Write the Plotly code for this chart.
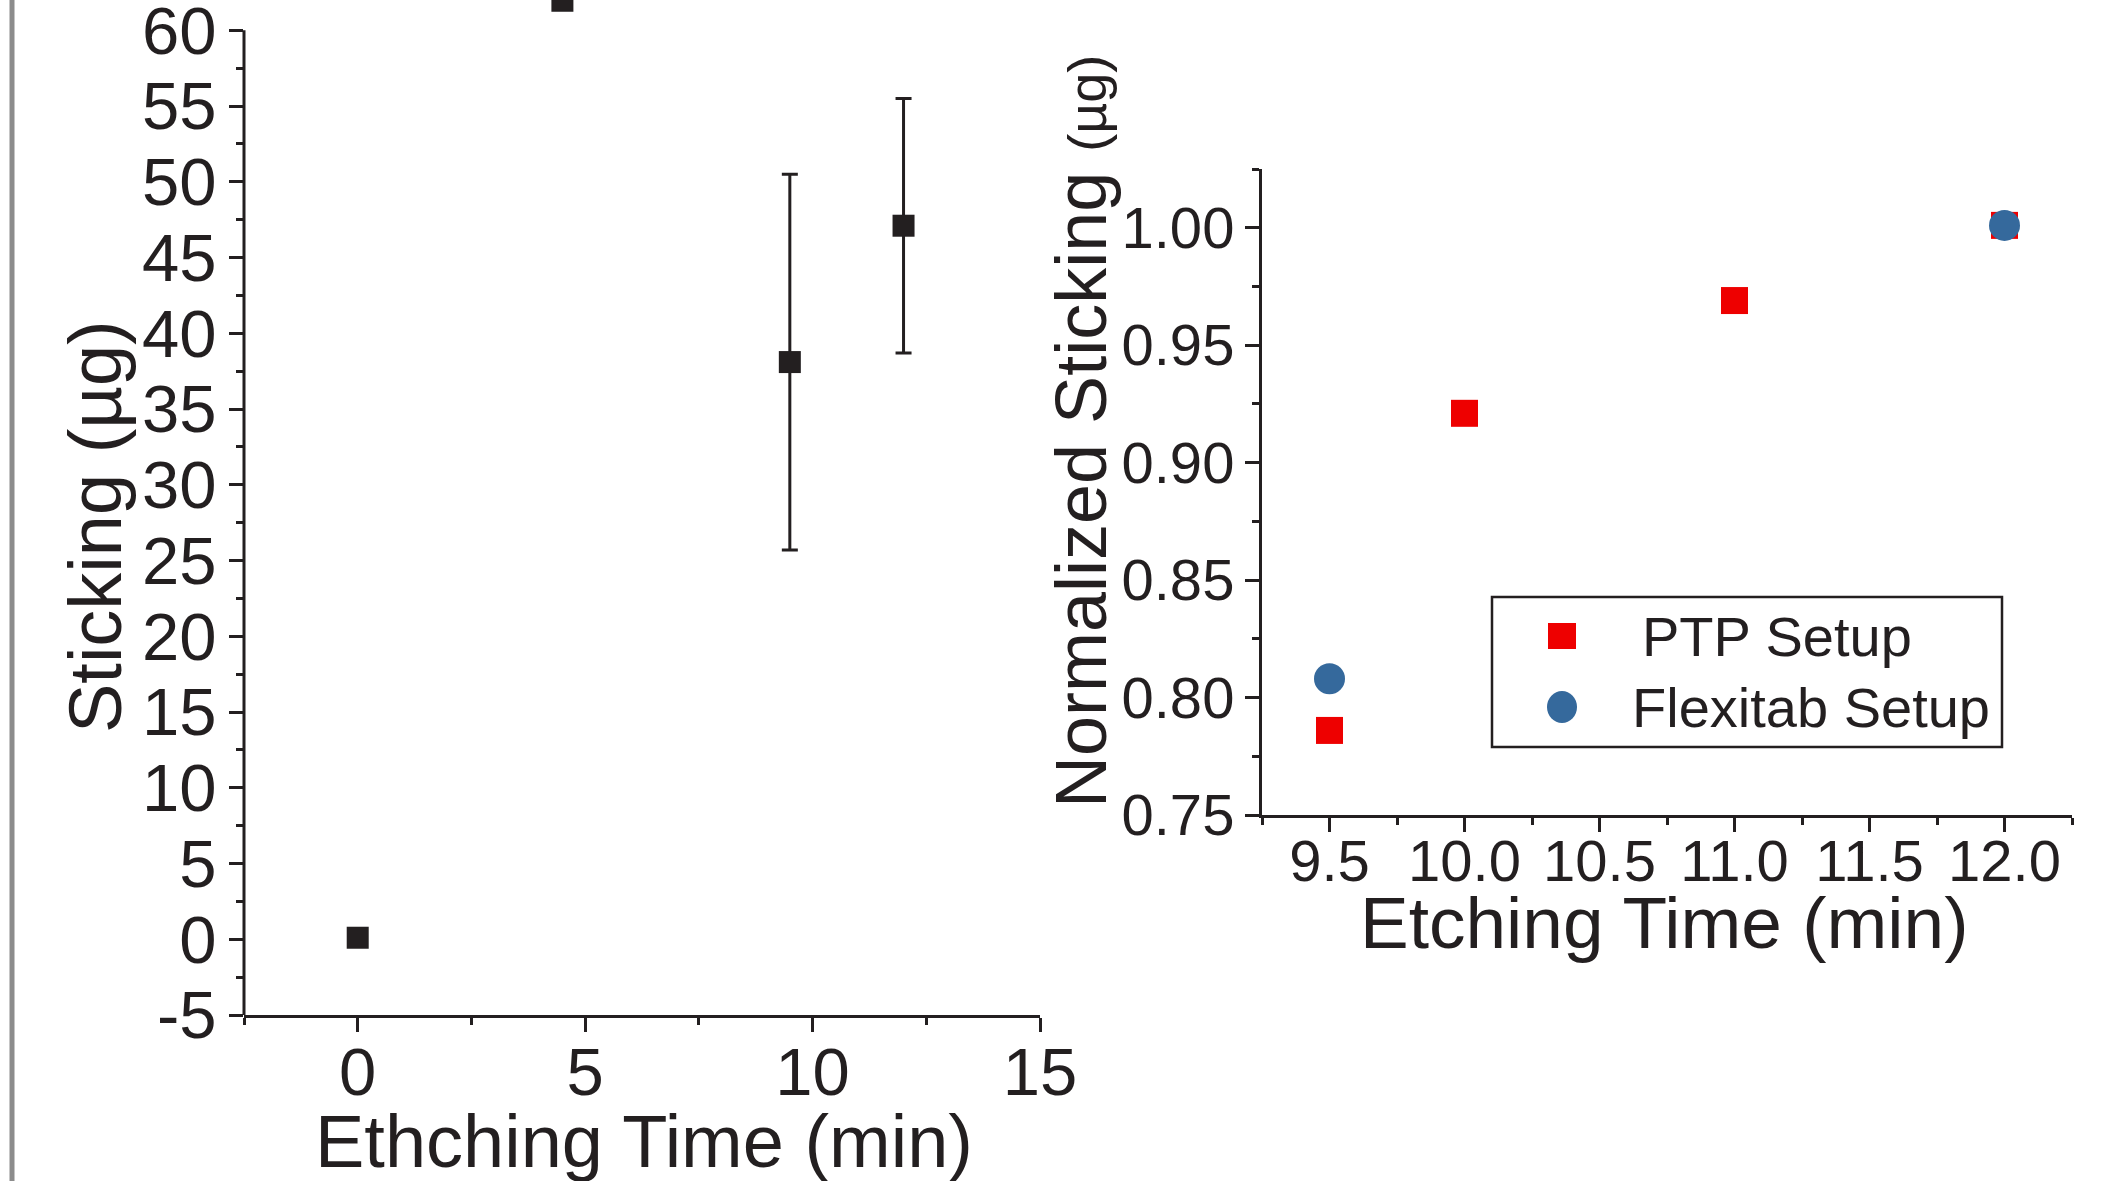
import plotly.graph_objects as go

# ---------------- data ----------------
# Left panel: sticking vs etching time
left_time = [0, 4.5, 9.5, 12]
left_sticking = [0.1, 61.95, 38.1, 47.1]
left_err = [0, 0, 12.4, 8.4]
left_yticks = [-5, 0, 5, 10, 15, 20, 25, 30, 35, 40, 45, 50, 55, 60]
left_yminor = [-2.5, 2.5, 7.5, 12.5, 17.5, 22.5, 27.5, 32.5, 37.5, 42.5, 47.5, 52.5, 57.5]
left_xticks = [0, 5, 10, 15]

# Right panel: normalized sticking
ptp_time = [9.5, 10.0, 11.0, 12.0]
ptp_norm = [0.786, 0.921, 0.969, 1.001]
flex_time = [9.5, 12.0]
flex_norm = [0.808, 1.001]
right_xticks = [9.5, 10.0, 10.5, 11.0, 11.5, 12.0]
right_yticks = [0.75, 0.80, 0.85, 0.90, 0.95, 1.00]
legend_labels = ["PTP Setup", "Flexitab Setup"]

W, H = 2117, 1181
FONT = "Liberation Sans, Arial, sans-serif"
INK = "#231f20"
RED = "#ee0000"
BLUE = "#35699c"

def px_x(p):
    return p / W

def px_y(p):
    return 1 - p / H

fig = go.Figure()

fig.add_trace(go.Scatter(
    x=left_time, y=left_sticking, mode="markers",
    marker=dict(symbol="square", size=22, color=INK),
    error_y=dict(type="data", array=left_err, visible=True,
                 color=INK, thickness=3, width=8),
    cliponaxis=False, showlegend=False, xaxis="x", yaxis="y",
))

fig.add_trace(go.Scatter(
    x=ptp_time, y=ptp_norm, mode="markers", name=legend_labels[0],
    marker=dict(symbol="square", size=27, color=RED),
    cliponaxis=False, showlegend=False, xaxis="x2", yaxis="y2",
))
fig.add_trace(go.Scatter(
    x=flex_time, y=flex_norm, mode="markers", name=legend_labels[1],
    marker=dict(symbol="circle", size=31, color=BLUE),
    cliponaxis=False, showlegend=False, xaxis="x2", yaxis="y2",
))

axis_common = dict(
    linewidth=3, linecolor=INK, showgrid=False, zeroline=False,
    ticks="outside", tickcolor=INK, tickwidth=3, ticklen=14,
    mirror=False, ticklabeloverflow="allow", automargin=False,
)

fig.update_layout(
    template="none",
    width=W, height=H,
    margin=dict(l=0, r=0, t=0, b=0, pad=0, autoexpand=False),
    paper_bgcolor="white", plot_bgcolor="white",
    font=dict(family=FONT, color=INK),
    showlegend=False,
    xaxis=dict(
        **axis_common, showline=True,
        domain=[px_x(244), px_x(1040)], range=[-2.5, 15],
        tickvals=left_xticks, ticktext=[str(v) for v in left_xticks],
        tickfont=dict(size=67, family=FONT, color=INK),
        ticklabelstandoff=-17,
        minor=dict(ticks="outside", ticklen=7, tickwidth=3, tickcolor=INK, dtick=2.5, tick0=0),
        anchor="y",
    ),
    # axis runs up to the page top so the clipped point above 60 stays visible;
    # the visible axis line (-5..60) is drawn as a shape below
    yaxis=dict(
        **axis_common, showline=False,
        domain=[px_y(1015), 1], range=[-5, 62],
        tickvals=left_yticks, ticktext=[str(v) for v in left_yticks],
        tickfont=dict(size=67, family=FONT, color=INK),
        ticklabelstandoff=-1,
        minor=dict(ticks="outside", ticklen=7, tickwidth=3, tickcolor=INK, tickvals=left_yminor),
        anchor="x",
    ),
    xaxis2=dict(
        **axis_common, showline=True,
        domain=[px_x(1262), px_x(2072)], range=[9.25, 12.25],
        tickvals=right_xticks, ticktext=[f"{v:.1f}" for v in right_xticks],
        tickfont=dict(size=58, family=FONT, color=INK),
        ticklabelstandoff=-21,
        minor=dict(ticks="outside", ticklen=7, tickwidth=3, tickcolor=INK, dtick=0.25, tick0=9.25),
        anchor="y2",
    ),
    yaxis2=dict(
        **axis_common, showline=True,
        domain=[px_y(815), px_y(169)], range=[0.75, 1.025],
        tickvals=right_yticks, ticktext=[f"{v:.2f}" for v in right_yticks],
        tickfont=dict(size=58, family=FONT, color=INK),
        ticklabelstandoff=-1,
        minor=dict(ticks="outside", ticklen=7, tickwidth=3, tickcolor=INK, dtick=0.025, tick0=0.75),
        anchor="x2",
    ),
    annotations=[
        dict(text="Sticking (µg)", textangle=-90, xref="paper", yref="paper",
             x=px_x(95), y=px_y(527), xanchor="center", yanchor="middle",
             showarrow=False, font=dict(size=74, family=FONT, color=INK)),
        dict(text="Ethching Time (min)", xref="paper", yref="paper",
             x=px_x(644), y=px_y(1141), xanchor="center", yanchor="middle",
             showarrow=False, font=dict(size=74, family=FONT, color=INK)),
        dict(text="Normalized Sticking <span style='font-size:54px'>(µg)</span>",
             textangle=-90, xref="paper", yref="paper",
             x=px_x(1081), y=px_y(432), xanchor="center", yanchor="middle",
             showarrow=False, font=dict(size=72, family=FONT, color=INK)),
        dict(text="Etching Time (min)", xref="paper", yref="paper",
             x=px_x(1664), y=px_y(922), xanchor="center", yanchor="middle",
             showarrow=False, font=dict(size=73, family=FONT, color=INK)),
        # legend labels
        dict(text=legend_labels[0], xref="paper", yref="paper",
             x=px_x(1640), y=px_y(636), xanchor="left", yanchor="middle",
             showarrow=False, font=dict(size=56, family=FONT, color=INK)),
        dict(text=legend_labels[1], xref="paper", yref="paper",
             x=px_x(1630), y=px_y(707), xanchor="left", yanchor="middle",
             showarrow=False, font=dict(size=56, family=FONT, color=INK)),
    ],
    shapes=[
        # gray frame edge at far left
        dict(type="line", xref="paper", yref="paper",
             x0=px_x(12), x1=px_x(12), y0=0, y1=1,
             line=dict(color="#8c8c8c", width=5)),
        # left y-axis line from -5 to 60
        dict(type="line", xref="x domain", yref="y",
             x0=0, x1=0, y0=-5, y1=60,
             line=dict(color=INK, width=3)),
        # legend box
        dict(type="rect", xref="paper", yref="paper",
             x0=px_x(1492), x1=px_x(2002), y0=px_y(747), y1=px_y(597),
             line=dict(color=INK, width=2.5), fillcolor="white", layer="below"),
        # legend swatches
        dict(type="rect", xref="paper", yref="paper",
             x0=px_x(1562 - 14), x1=px_x(1562 + 14), y0=px_y(636 + 13), y1=px_y(636 - 13),
             line=dict(width=0), fillcolor=RED),
        dict(type="circle", xref="paper", yref="paper",
             x0=px_x(1562 - 15), x1=px_x(1562 + 15), y0=px_y(707 + 16), y1=px_y(707 - 16),
             line=dict(width=0), fillcolor=BLUE),
    ],
)

fig.write_html(
    "out.html",
    config={"displayModeBar": False},
    post_script="document.body.style.margin='0px';document.body.style.overflow='hidden';",
)
